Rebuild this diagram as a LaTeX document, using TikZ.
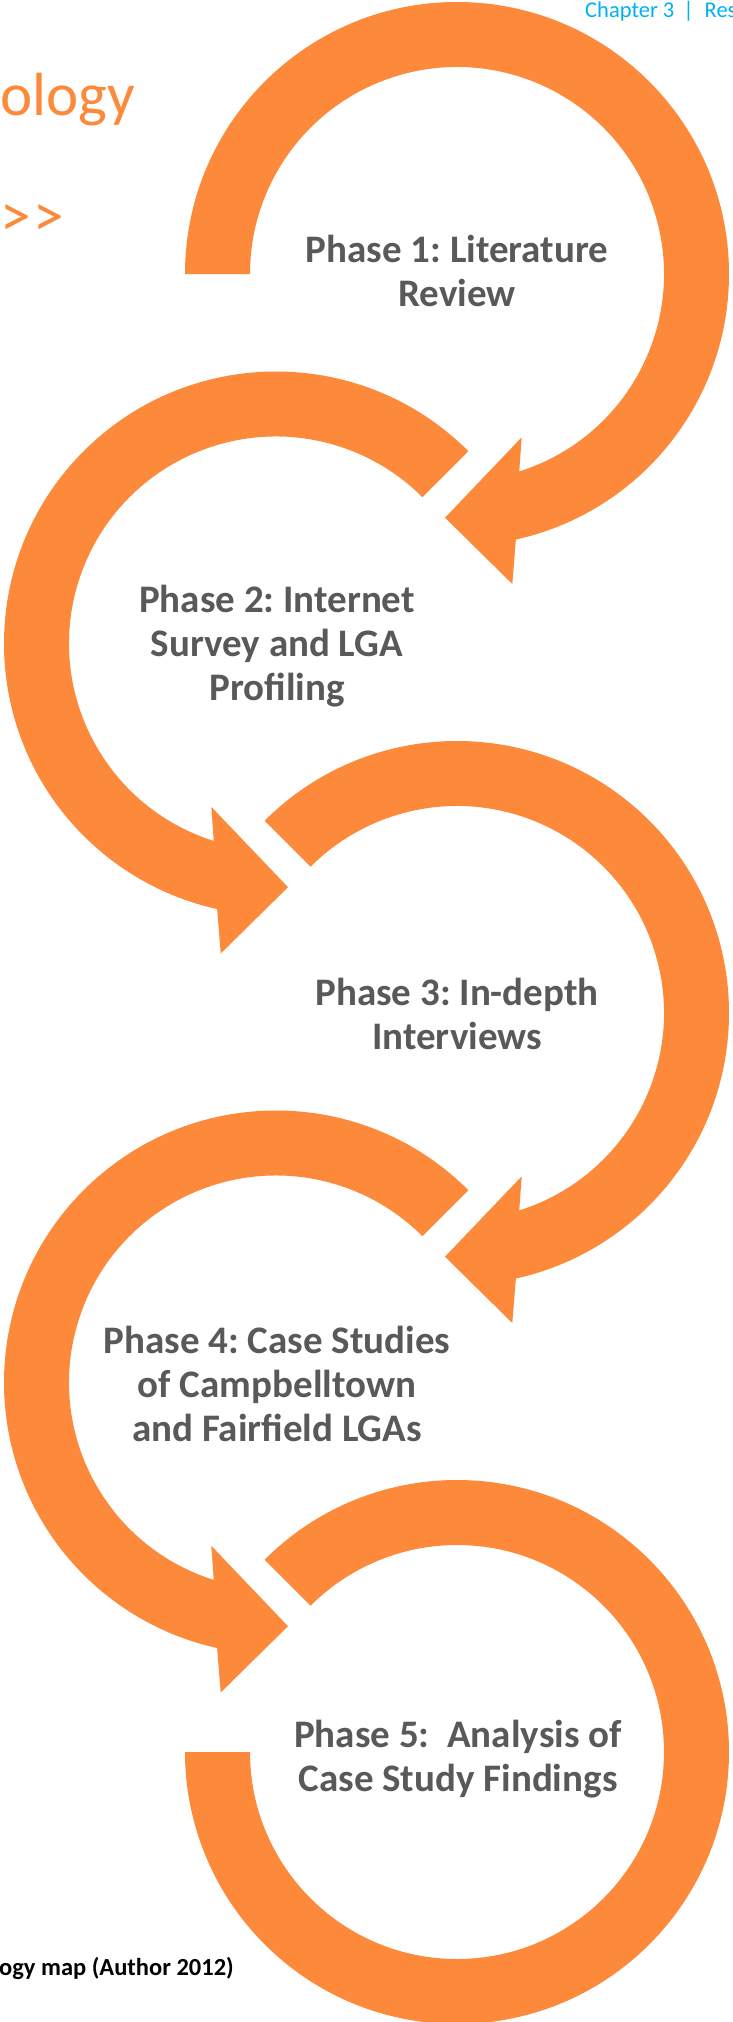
\documentclass[tikz,border=0pt]{standalone}
\usepackage{fontspec}
\setmainfont{Carlito}
\definecolor{ringorange}{RGB}{253,137,58}
\definecolor{phasegrey}{RGB}{89,89,89}
\definecolor{chaptercyan}{RGB}{0,176,240}
\begin{document}
\frenchspacing
\begin{tikzpicture}[x=1pt, y=1pt, every node/.style={align=center, inner sep=0pt, text=phasegrey, font=\bfseries\fontsize{39}{44}\selectfont}]
  \useasboundingbox (0,0) rectangle (732,-2022);
  \clip (0,0) rectangle (732,-2022);
  \foreach \cx/\cy/\flip/\start in {457/274/1/180, 276/643.5/-1/135, 457/1013/1/135, 276/1382.5/-1/135}
    \fill[ringorange, shift={(\cx,-\cy)}, xscale=\flip] (\start:272) arc[start angle=\start, end angle=-77.5, radius=272]
      -- (55.3,-310) -- (-12,-243.7) -- (64.7,-163.3) -- (-72.5:207) arc[start angle=-72.5, end angle=\start, radius=207] -- cycle;
  \fill[ringorange, shift={(457,-1752)}] (135:272) arc[start angle=135, end angle=-180, radius=272]
    -- (-180:207) arc[start angle=-180, end angle=135, radius=207] -- cycle;
  \node (1) at (457,-271) {Phase 1: Literature\\Review};
  \node (2) at (277,-646.5) {Phase 2: Internet\\Survey and LGA\\Profiling};
  \node (3) at (457,-1014) {Phase 3: In-depth\\Interviews};
  \node (4) at (277,-1384) {Phase 4: Case Studies\\of Campbelltown\\and Fairfield LGAs};
  \node (5) at (458,-1759.5) {Phase 5:\ \ Analysis of\\Case Study Findings};
  \node (6) at (585,-17.3) [anchor=base west, text=chaptercyan, font=\fontsize{22.5}{26}\selectfont] {Chapter 3\hspace{9pt}|\hspace{11pt}Res};
  \node (7) at (0,-115) [anchor=base west, text=ringorange, font=\fontsize{61}{70}\selectfont] {ology};
  \node (8) at (0,-236) [anchor=base west, text=ringorange, font=\fontsize{61}{70}\selectfont] {>\kern3pt>};
  \node (9) at (234,-1975) [anchor=base east, text=black, font=\bfseries\fontsize{24.5}{28}\selectfont] {ogy map (Author 2012)};
\end{tikzpicture}
\end{document}
